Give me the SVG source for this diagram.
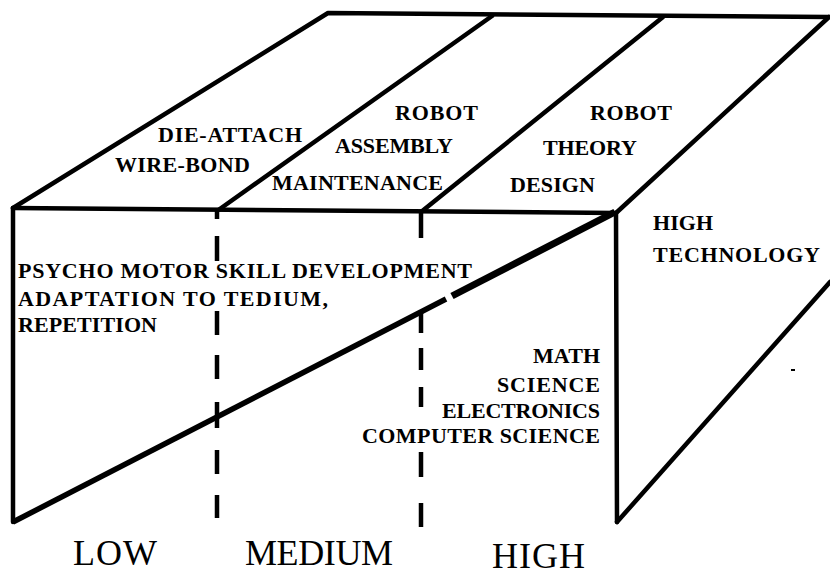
<svg xmlns="http://www.w3.org/2000/svg" width="830" height="576" viewBox="0 0 830 576">
  <style>
    .edge { fill: none; stroke: #000; stroke-width: 4.5; stroke-linecap: round; stroke-linejoin: round; }
    .dash { fill: none; stroke: #000; stroke-width: 4.5; stroke-linecap: butt; }
    .lbl { font-family: "Liberation Serif", "Times New Roman", serif; font-weight: bold; font-size: 22px; fill: #000; }
    .axis { font-family: "Liberation Serif", "Times New Roman", serif; font-size: 36px; fill: #000; }
  </style>
  <rect x="0" y="0" width="830" height="576" fill="#fff"/>

  <!-- box outline: top face, front face, side face -->
  <g id="box">
    <!-- top face -->
    <polyline class="edge" points="13,208 328,13 829,17"/>
    <line class="edge" x1="13" y1="208" x2="616" y2="213"/>
    <line class="edge" x1="616" y1="213" x2="829" y2="17"/>
    <!-- front face -->
    <line class="edge" x1="13" y1="208" x2="13" y2="522"/>
    <line class="edge" x1="616" y1="213" x2="617" y2="522"/>
    <!-- side face -->
    <line class="edge" x1="617" y1="522" x2="830" y2="282"/>
    <line stroke="#000" stroke-width="2" x1="791" y1="370" x2="795" y2="370"/>
  </g>

  <!-- strip dividers on the top face -->
  <g id="dividers">
    <line class="edge" x1="217" y1="211" x2="492" y2="16"/>
    <line class="edge" x1="421" y1="212" x2="663" y2="17"/>
  </g>

  <!-- rising skill line across the front face -->
  <g id="skill-line">
    <line stroke="#000" stroke-width="5.5" stroke-linecap="butt" x1="13" y1="522" x2="446" y2="299"/>
    <line stroke="#000" stroke-width="7" stroke-linecap="butt" x1="452" y1="296" x2="615" y2="212"/>
  </g>

  <!-- level boundaries on the front face -->
  <g id="level-lines">
    <path class="dash" d="M217 212V219M217 236V261M217 311V335M217 355V379M217 402V428M217 450V474M217 495V518"/>
    <path class="dash" d="M421 212V238M421 313V333M421 348V370M421 387V407M421 452V477M421 503V527"/>
  </g>

  <!-- top face labels -->
  <g id="low-top">
    <text class="lbl" x="158" y="142" textLength="144" lengthAdjust="spacing">DIE-ATTACH</text>
    <text class="lbl" x="115" y="172" textLength="135" lengthAdjust="spacing">WIRE-BOND</text>
  </g>
  <g id="medium-top">
    <text class="lbl" x="395" y="120" textLength="83" lengthAdjust="spacing">ROBOT</text>
    <text class="lbl" x="335" y="153" textLength="118" lengthAdjust="spacing">ASSEMBLY</text>
    <text class="lbl" x="272" y="190" textLength="171" lengthAdjust="spacing">MAINTENANCE</text>
  </g>
  <g id="high-top">
    <text class="lbl" x="590" y="120" textLength="82" lengthAdjust="spacing">ROBOT</text>
    <text class="lbl" x="543" y="155" textLength="94" lengthAdjust="spacing">THEORY</text>
    <text class="lbl" x="510" y="192" textLength="85" lengthAdjust="spacing">DESIGN</text>
  </g>

  <!-- side face label -->
  <g id="side">
    <text class="lbl" x="653" y="230" textLength="60" lengthAdjust="spacing">HIGH</text>
    <text class="lbl" x="653" y="262" textLength="167" lengthAdjust="spacing">TECHNOLOGY</text>
  </g>

  <!-- front face labels -->
  <g id="psycho-motor">
    <text class="lbl" x="18" y="278" textLength="454" lengthAdjust="spacing">PSYCHO MOTOR SKILL DEVELOPMENT</text>
    <text class="lbl" x="18" y="306" textLength="310" lengthAdjust="spacing">ADAPTATION TO TEDIUM,</text>
    <text class="lbl" x="18" y="332" textLength="139" lengthAdjust="spacing">REPETITION</text>
  </g>
  <g id="academics">
    <text class="lbl" x="533" y="363" textLength="67" lengthAdjust="spacing">MATH</text>
    <text class="lbl" x="497" y="392" textLength="103" lengthAdjust="spacing">SCIENCE</text>
    <text class="lbl" x="442" y="418" textLength="158" lengthAdjust="spacing">ELECTRONICS</text>
    <text class="lbl" x="362" y="443" textLength="238" lengthAdjust="spacing">COMPUTER SCIENCE</text>
  </g>

  <!-- level axis -->
  <g id="levels">
    <text class="axis" x="73" y="565" textLength="84" lengthAdjust="spacing">LOW</text>
    <text class="axis" x="245" y="565" textLength="148" lengthAdjust="spacing">MEDIUM</text>
    <text class="axis" x="492" y="568" textLength="93" lengthAdjust="spacing">HIGH</text>
  </g>
</svg>
